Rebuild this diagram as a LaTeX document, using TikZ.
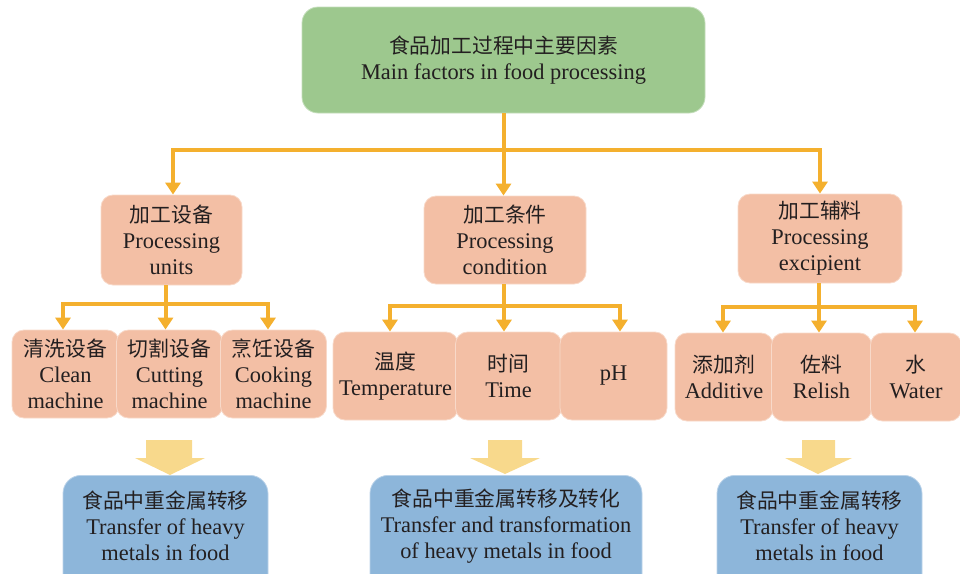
\documentclass[tikz,border=0pt]{standalone}
\usepackage{fontspec}
\setmainfont{Liberation Serif}
\newfontfamily\cjk{Noto Sans CJK SC}
\usetikzlibrary{arrows.meta,calc}
\definecolor{gfill}{HTML}{9DC88E}
\definecolor{sfill}{HTML}{F3BFA5}
\definecolor{bfill}{HTML}{8DB6DA}
\definecolor{yfill}{HTML}{F8D98C}
\definecolor{oline}{HTML}{F4B02E}
\definecolor{txtc}{HTML}{231F20}
\newcommand\zh[1]{{\cjk\fontsize{20.8}{26}\selectfont #1}}
\begin{document}
\begin{tikzpicture}[x=1pt,y=-1pt,
  every node/.style={text=txtc, align=center, font=\fontsize{22.4}{26}\selectfont, inner sep=0pt},
  gbox/.style={fill=gfill, draw=gfill!60!white, line width=0.8pt, rounded corners=16pt},
  sbox/.style={fill=sfill, draw=sfill!60!white, line width=0.8pt, rounded corners=12pt},
  bbox/.style={fill=bfill, draw=bfill!60!white, line width=0.8pt, rounded corners=18pt},
  link/.style={draw=oline, line width=4pt},
  conn/.style={draw=oline, line width=4pt, -{Triangle[width=15pt,length=12pt]}},
  bigarrow/.style={fill=yfill}
]
\useasboundingbox (0,0) rectangle (960,573);
\clip (0,0) rectangle (960,573);

% top
\node[gbox, minimum width=403pt, minimum height=106pt] (top) at (503.5,60)
  {\zh{食品加工过程中主要因素}\\Main factors in food processing};

% middle level
\node[sbox, minimum width=141pt, minimum height=90pt] (m1) at (171.5,240)
  {\zh{加工设备}\\Processing\\units};
\node[sbox, minimum width=162pt, minimum height=88pt] (m2) at (505,240)
  {\zh{加工条件}\\Processing\\condition};
\node[sbox, minimum width=164pt, minimum height=89pt] (m3) at (820,238.5)
  {\zh{加工辅料}\\Processing\\excipient};

% group 1
\node[sbox, minimum width=107pt, minimum height=88pt] (a1) at (65.5,374)
  {\zh{清洗设备}\\Clean\\machine};
\node[sbox, minimum width=106pt, minimum height=88pt] (a2) at (169.5,374)
  {\zh{切割设备}\\Cutting\\machine};
\node[sbox, minimum width=106pt, minimum height=88pt] (a3) at (273.5,374)
  {\zh{烹饪设备}\\Cooking\\machine};

% group 2
\node[sbox, minimum width=125pt, minimum height=88pt] (b1) at (395.5,376)
  {\zh{温度}\\Temperature};
\node[sbox, minimum width=106pt, minimum height=88pt] (b2) at (508.5,376)
  {\zh{时间}\\Time};
\node[sbox, minimum width=107pt, minimum height=88pt] (b3) at (613.5,376)
  {pH};

% group 3
\node[sbox, minimum width=98pt, minimum height=88pt] (c1) at (724,377)
  {\zh{添加剂}\\Additive};
\node[sbox, minimum width=100pt, minimum height=88pt] (c2) at (821.5,377)
  {\zh{佐料}\\Relish};
\node[sbox, minimum width=91pt, minimum height=88pt] (c3) at (916,377)
  {\zh{水}\\Water};

% bottom boxes
\node[bbox, minimum width=205pt, minimum height=130pt, anchor=north] (d1) at (165.5,475) {};
\node[bbox, minimum width=272pt, minimum height=130pt, anchor=north] (d2) at (506,475) {};
\node[bbox, minimum width=205pt, minimum height=130pt, anchor=north] (d3) at (819.5,475) {};
\node (d1t) at (165.5,526) {\zh{食品中重金属转移}\\Transfer of heavy\\metals in food};
\node (d2t) at (506,526) {\zh{食品中重金属转移及转化}\\Transfer and transformation\\of heavy metals in food};
\node (d3t) at (819.5,526) {\zh{食品中重金属转移}\\Transfer of heavy\\metals in food};

% top connectors
\draw[conn] (top.south) -- (top.south |- m2.north);
\draw[conn] (top.south) -- ++(0,37) -| ([xshift=1.5pt]m1.north);
\draw[conn] (top.south) -- ++(0,37) -| (m3.north);

% group 1 connectors
\path ([xshift=-6pt]m1.south) ++(0,18.5) coordinate (k1);
\draw[link] ([xshift=-6pt]m1.south) -- (k1);
\draw[conn] (k1) -| ([xshift=-2.5pt]a1.north);
\draw[conn] (k1) -- (k1 |- a2.north);
\draw[conn] (k1) -| ([xshift=-5.5pt]a3.north);

% group 2 connectors
\path ([xshift=-1pt]m2.south) ++(0,22) coordinate (k2);
\draw[link] ([xshift=-1pt]m2.south) -- (k2);
\draw[conn] (k2) -| ([xshift=-5.5pt]b1.north);
\draw[conn] (k2) -- (k2 |- b2.north);
\draw[conn] (k2) -| ([xshift=6.5pt]b3.north);

% group 3 connectors
\path ([xshift=-1pt]m3.south) ++(0,24) coordinate (k3);
\draw[link] ([xshift=-1pt]m3.south) -- (k3);
\draw[conn] (k3) -| ([xshift=-1pt]c1.north);
\draw[conn] (k3) -- (k3 |- c2.north);
\draw[conn] (k3) -| ([xshift=-1pt]c3.north);

% big arrows
\fill[bigarrow] (146,440) -- (192,440) -- (192,458) -- (205,458) -- (170,475) -- (135,458) -- (146,458) -- cycle;
\fill[bigarrow] (488,440) -- (522,440) -- (522,458) -- (540,458) -- (505,474) -- (470,458) -- (488,458) -- cycle;
\fill[bigarrow] (802,440) -- (835,440) -- (835,458) -- (852,458) -- (818,474) -- (785,458) -- (802,458) -- cycle;
\end{tikzpicture}
\end{document}
